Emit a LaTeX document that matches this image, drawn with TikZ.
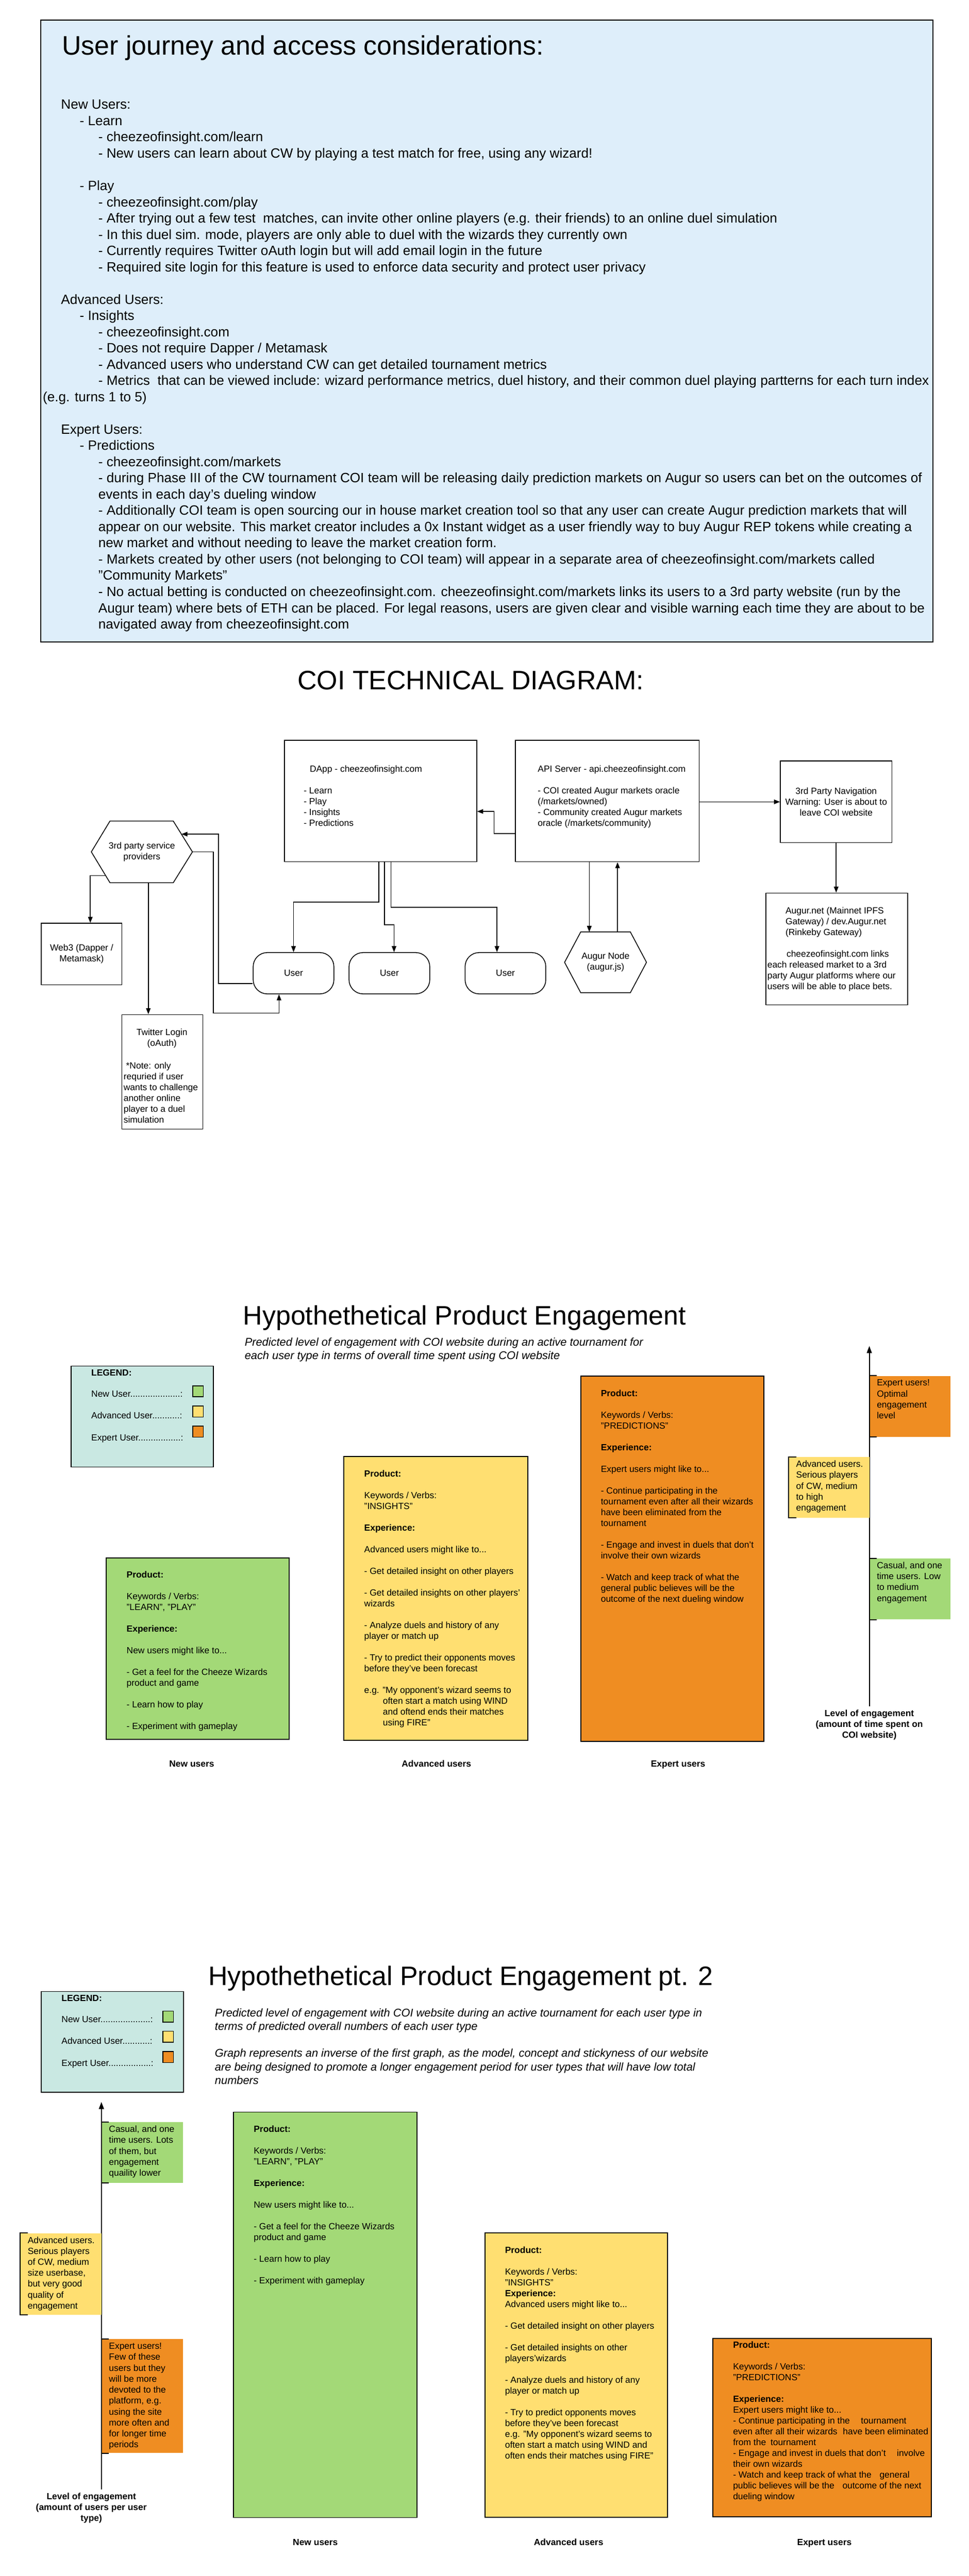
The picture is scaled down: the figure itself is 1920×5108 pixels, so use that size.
\documentclass[tikz,border=0pt]{standalone}
\usepackage{fontspec}
\setmainfont{Liberation Sans}
\usetikzlibrary{arrows.meta,calc}
\definecolor{topblue}{RGB}{222,238,250}
\definecolor{legteal}{RGB}{201,232,226}
\definecolor{cgreen}{RGB}{163,217,119}
\definecolor{cyellow}{RGB}{255,223,113}
\definecolor{corange}{RGB}{239,141,34}
\newcommand\ftSmall{\fontsize{17.8pt}{21.45pt}\selectfont}
\newcommand\ftSide{\fontsize{17.8pt}{21.7pt}\selectfont}
\newcommand\ftBody{\fontsize{26.7pt}{32.2pt}\selectfont}
\newcommand\ftTitle{\fontsize{53pt}{60pt}\selectfont}
\newcommand\ftSubA{\fontsize{22.3pt}{26pt}\selectfont\itshape}
\newcommand\ftSubB{\fontsize{22.3pt}{26.7pt}\selectfont\itshape}
\newcommand\Lt[1]{\begin{tabular}[t]{@{}l@{}}#1\end{tabular}}
\newcommand\Ct[1]{\begin{tabular}[t]{@{}c@{}}#1\end{tabular}}
\newcommand\legendat[3]{%
\begin{scope}[shift={(#1,#2)}]
\node[box, fill=legteal, minimum width=282pt, minimum height=200pt] (#3) at (0,0) {};
\node[tx, font=\ftSmall\bfseries] (#3-t) at (41,20) {LEGEND:};
\node[tx] (#3-a) at (41,62) {New User....................:};
\node[tx] (#3-b) at (41,105) {Advanced User...........:};
\node[tx] (#3-c) at (41,149) {Expert User.................:};
\node[box, fill=cgreen, minimum width=21pt, minimum height=22pt] (#3-s1) at (241,39) {};
\node[box, fill=cyellow, minimum width=21pt, minimum height=22pt] (#3-s2) at (241,79) {};
\node[box, fill=corange, minimum width=21pt, minimum height=22pt] (#3-s3) at (241,119) {};
\end{scope}}
\newcommand\sidebox[7]{% x y w h color name text
\node[anchor=north west, fill=#5, minimum width=#3pt, minimum height=#4pt, inner sep=0pt] (#6) at (#1,#2) {};
\draw[line width=2pt] ([xshift=15pt]#6.north west) -- (#6.north west) -- (#6.south west) -- ([xshift=15pt]#6.south west);
\node[tx, font=\ftSide] (#6-txt) at ([shift={(15pt,-20pt)}]#6.north west) {\Lt{#7}};}
\begin{document}
\begin{tikzpicture}[x=1pt,y=-1pt,
  box/.style={draw=black, line width=1.6pt, inner sep=0pt, anchor=north west},
  cbox/.style={draw=black, line width=2pt, inner sep=0pt, anchor=north west},
  tx/.style={anchor=base west, inner sep=0pt, outer sep=0pt, font=\ftSmall},
  ctx/.style={anchor=base, inner sep=0pt, outer sep=0pt, font=\ftSmall},
  lbl/.style={anchor=base, inner sep=0pt, font=\ftSmall\bfseries},
  arr/.style={line width=1.6pt, -{Triangle[length=12pt,width=9pt]}},
  axarr/.style={line width=2pt, -{Triangle[length=14pt,width=10pt]}},
  ln/.style={line width=1.6pt}]
\useasboundingbox (0,0) rectangle (1920,5108);
\fill[white] (0,0) rectangle (1920,5108);

% ================= TOP BOX =================
\node[box, fill=topblue, minimum width=1768pt, minimum height=1233pt] (topbox) at (80,39) {};
\node[tx, font=\ftTitle] (toptitle) at (123,109) {User journey and access considerations:};
\node[tx, font=\ftBody] (journey) at (121,216.5) {\Lt{New Users:\\
\hspace*{37pt}- Learn\\
\hspace*{74pt}- cheezeofinsight.com/learn\\
\hspace*{74pt}- New users can learn about CW by playing a test match for free, using any wizard!\\
\mbox{}\\
\hspace*{37pt}- Play\\
\hspace*{74pt}- cheezeofinsight.com/play\\
\hspace*{74pt}- After trying out a few test\ \ matches, can invite other online players (e.g. their friends) to an online duel simulation\\
\hspace*{74pt}- In this duel sim. mode, players are only able to duel with the wizards they currently own\\
\hspace*{74pt}- Currently requires Twitter oAuth login but will add email login in the future\\
\hspace*{74pt}- Required site login for this feature is used to enforce data security and protect user privacy\\
\mbox{}\\
Advanced Users:\\
\hspace*{37pt}- Insights\\
\hspace*{74pt}- cheezeofinsight.com\\
\hspace*{74pt}- Does not require Dapper / Metamask\\
\hspace*{74pt}- Advanced users who understand CW can get detailed tournament metrics\\
\hspace*{74pt}- Metrics\ \ that can be viewed include: wizard performance metrics, duel history, and their common duel playing partterns for each turn index\\
\hspace*{-36pt}(e.g. turns 1 to 5)\\
\mbox{}\\
Expert Users:\\
\hspace*{37pt}- Predictions\\
\hspace*{74pt}- cheezeofinsight.com/markets\\
\hspace*{74pt}- during Phase III of the CW tournament COI team will be releasing daily prediction markets on Augur so users can bet on the outcomes of\\
\hspace*{74pt}events in each day's dueling window\\
\hspace*{74pt}- Additionally COI team is open sourcing our in house market creation tool so that any user can create Augur prediction markets that will\\
\hspace*{74pt}appear on our website. This market creator includes a 0x Instant widget as a user friendly way to buy Augur REP tokens while creating a\\
\hspace*{74pt}new market and without needing to leave the market creation form.\\
\hspace*{74pt}- Markets created by other users (not belonging to COI team) will appear in a separate area of cheezeofinsight.com/markets called\\
\hspace*{74pt}"Community Markets"\\
\hspace*{74pt}- No actual betting is conducted on cheezeofinsight.com. cheezeofinsight.com/markets links its users to a 3rd party website (run by the\\
\hspace*{74pt}Augur team) where bets of ETH can be placed. For legal reasons, users are given clear and visible warning each time they are about to be\\
\hspace*{74pt}navigated away from cheezeofinsight.com}};

% ================= COI TECHNICAL DIAGRAM =================
\node[anchor=base, inner sep=0pt, font=\ftTitle] (coititle) at (933,1367) {COI TECHNICAL DIAGRAM:};
\node[box, minimum width=381pt, minimum height=241pt] (dapp) at (563,1467) {};
\node[tx] (dapptxt) at (602,1531) {\Lt{\hspace*{12pt}DApp - cheezeofinsight.com\\ \mbox{}\\ - Learn\\ - Play\\ - Insights\\ - Predictions}};
\node[box, minimum width=364pt, minimum height=241pt] (api) at (1021,1467) {};
\node[tx] (apitxt) at (1066,1531) {\Lt{API Server - api.cheezeofinsight.com\\ \mbox{}\\ - COI created Augur markets oracle\\ (/markets/owned)\\ - Community created Augur markets\\ oracle (/markets/community)}};
\node[box, minimum width=221pt, minimum height=162pt, align=center, font=\ftSmall] (nav) at (1546,1508) {3rd Party Navigation\\Warning: User is about to\\leave COI website};
\node[box, minimum width=281pt, minimum height=222pt] (augurnet) at (1517,1770) {};
\node[tx] (augurnettxt) at (1521,1812) {\Lt{\hspace*{36pt}Augur.net (Mainnet IPFS\\ \hspace*{36pt}Gateway) / dev.Augur.net\\ \hspace*{36pt}(Rinkeby Gateway)\\ \mbox{}\\ \hspace*{38pt}cheezeofinsight.com links\\ each released market to a 3rd\\ party Augur platforms where our\\ users will be able to place bets.}};
% 3rd party hexagon
\node[anchor=north west, minimum width=200pt, minimum height=122pt, inner sep=0pt, align=center, font=\ftSmall] (hex3p) at (181,1628) {3rd party service\\providers};
\draw[ln] (hex3p.west) -- ([xshift=37pt]hex3p.north west) -- ([xshift=-38pt]hex3p.north east) -- (hex3p.east) -- ([xshift=-38pt]hex3p.south east) -- ([xshift=37pt]hex3p.south west) -- cycle;
\node[box, minimum width=160pt, minimum height=122pt, align=center, font=\ftSmall] (web3) at (81,1830) {Web3 (Dapper /\\Metamask)};
\node[box, minimum width=160pt, minimum height=227pt] (twitter) at (241,2011) {};
\node[ctx] (twittertxt) at (321,2053) {\Ct{Twitter Login\\(oAuth)}};
\node[tx] (twitternote) at (245,2119) {\Lt{\hspace*{5pt}*Note: only\\requried if user\\wants to challenge\\another online\\player to a duel\\simulation}};
% users
\node[box, rounded corners=28pt, minimum width=160pt, minimum height=82pt, font=\ftSmall] (user1) at (501,1888) {User};
\node[box, rounded corners=28pt, minimum width=160pt, minimum height=82pt, font=\ftSmall] (user2) at (691,1888) {User};
\node[box, rounded corners=28pt, minimum width=160pt, minimum height=82pt, font=\ftSmall] (user3) at (921,1888) {User};
% augur node hexagon
\node[anchor=north west, minimum width=162pt, minimum height=120pt, inner sep=0pt, align=center, font=\ftSmall] (augurnode) at (1119,1848) {Augur Node\\(augur.js)};
\draw[ln] (augurnode.west) -- ([xshift=32pt]augurnode.north west) -- ([xshift=-32pt]augurnode.north east) -- (augurnode.east) -- ([xshift=-32pt]augurnode.south east) -- ([xshift=32pt]augurnode.south west) -- cycle;
% connectors
\draw[arr] (api.west |- 0,1653) -- (979,1653) |- (dapp.east |- 0,1609);
\draw[arr] (api.east |- 0,1590) -- (nav.west |- 0,1590);
\draw[arr] (nav.south) -- (nav.south |- augurnet.north);
\draw[arr] (api.south -| 1168,0) -- (augurnode.north -| 1168,0);
\draw[arr] (augurnode.north -| 1224,0) -- (api.south -| 1224,0);
\draw[arr] (dapp.south -| 751,0) -- (751,1789) -| (user1.north);
\draw[arr] (dapp.south -| 762,0) -- (762,1834) -| (user2.north -| 781,0);
\draw[arr] (dapp.south -| 775,0) -- (775,1799) -| (user3.north -| 985,0);
\coordinate (hexin) at (359.5,1654);
\coordinate (hexww) at (209.5,1736);
\draw[arr] (user1.west |- 0,1950) -| (433,1654) -- (hexin);
\draw[arr] (hex3p.east) -| (423,2009) -| (user1.south -| 553,0);
\draw[arr] (hexww) -| (web3.north -| 179,0);
\draw[arr] (hex3p.south -| 294,0) -- (twitter.north -| 294,0);

% ================= HYPOTHETICAL 1 =================
\node[tx, font=\ftTitle] (h1title) at (482,2627) {Hypothethetical Product Engagement};
\node[tx, font=\ftSubA] (h1sub) at (485,2669) {\Lt{Predicted level of engagement with COI website during an active tournament for\\each user type in terms of overall time spent using COI website}};
\legendat{140}{2708}{leg1}
\node[cbox, fill=cgreen, minimum width=363pt, minimum height=360pt] (h1new) at (209,3088) {};
\node[tx] (h1newtxt) at (251,3129) {\Lt{\textbf{Product:}\\ \mbox{}\\ Keywords / Verbs:\\ "LEARN", "PLAY"\\ \mbox{}\\ \textbf{Experience:}\\ \mbox{}\\ New users might like to...\\ \mbox{}\\ - Get a feel for the Cheeze Wizards\\ product and game\\ \mbox{}\\ - Learn how to play\\ \mbox{}\\ - Experiment with gameplay}};
\node[cbox, fill=cyellow, minimum width=365pt, minimum height=563pt] (h1adv) at (680,2887) {};
\node[tx] (h1advtxt) at (722,2928) {\Lt{\textbf{Product:}\\ \mbox{}\\ Keywords / Verbs:\\ "INSIGHTS"\\ \mbox{}\\ \textbf{Experience:}\\ \mbox{}\\ Advanced users might like to...\\ \mbox{}\\ - Get detailed insight on other players\\ \mbox{}\\ - Get detailed insights on other players'\\ wizards\\ \mbox{}\\ - Analyze duels and history of any\\ player or match up\\ \mbox{}\\ - Try to predict their opponents moves\\ before they've been forecast\\ \mbox{}\\ e.g. "My opponent's wizard seems to\\ \hspace*{37pt}often start a match using WIND\\ \hspace*{37pt}and oftend ends their matches\\ \hspace*{37pt}using FIRE"}};
\node[cbox, fill=corange, minimum width=363pt, minimum height=724pt] (h1exp) at (1150,2728) {};
\node[tx] (h1exptxt) at (1191,2769) {\Lt{\textbf{Product:}\\ \mbox{}\\ Keywords / Verbs:\\ "PREDICTIONS"\\ \mbox{}\\ \textbf{Experience:}\\ \mbox{}\\ Expert users might like to...\\ \mbox{}\\ - Continue participating in the\\ tournament even after all their wizards\\ have been eliminated from the\\ tournament\\ \mbox{}\\ - Engage and invest in duels that don't\\ involve their own wizards\\ \mbox{}\\ - Watch and keep track of what the\\ general public believes will be the\\ outcome of the next dueling window}};
\node[lbl] (h1l1) at (380,3504) {New users};
\node[lbl] (h1l2) at (865,3504) {Advanced users};
\node[lbl] (h1l3) at (1344,3504) {Expert users};
\coordinate (ax1b) at (1723,3383);
\coordinate (ax1t) at (1723,2669);
\draw[axarr] (ax1b) -- (ax1t);
\sidebox{1723}{2728}{161}{121}{corange}{h1se}{Expert users!\\Optimal\\engagement\\level}
\sidebox{1563}{2889}{160}{120}{cyellow}{h1sa}{Advanced users.\\Serious players\\of CW, medium\\to high\\engagement}
\sidebox{1723}{3090}{161}{121}{cgreen}{h1sc}{Casual, and one\\time users. Low\\to medium\\engagement}
\node[lbl] (h1axl) at (1723,3403) {\Ct{Level of engagement\\(amount of time spent on\\COI website)}};

% ================= HYPOTHETICAL 2 =================
\node[tx, font=\ftTitle] (h2title) at (413,3937) {Hypothethetical Product Engagement pt. 2};
\node[tx, font=\ftSubB] (h2sub) at (426,3999) {\Lt{Predicted level of engagement with COI website during an active tournament for each user type in\\terms of predicted overall numbers of each user type\\ \mbox{}\\Graph represents an inverse of the first graph, as the model, concept and stickyness of our website\\are being designed to promote a longer engagement period for user types that will have low total\\numbers}};
\legendat{81}{3948}{leg2}
\coordinate (ax2b) at (201,4936);
\coordinate (ax2t) at (201,4168);
\draw[axarr] (ax2b) -- (ax2t);
\sidebox{201}{4208}{161}{120}{cgreen}{h2sc}{Casual, and one\\time users. Lots\\of them, but\\engagement\\quaility lower}
\sidebox{40}{4428}{161}{162}{cyellow}{h2sa}{Advanced users.\\Serious players\\of CW, medium\\size userbase,\\but very good\\quality of\\engagement}
\sidebox{201}{4638}{161}{226}{corange}{h2se}{Expert users!\\Few of these\\users but they\\will be more\\devoted to the\\platform, e.g.\\using the site\\more often and\\for longer time\\periods}
\node[lbl] (h2axl) at (181,4956) {\Ct{Level of engagement\\(amount of users per user\\type)}};
\node[cbox, fill=cgreen, minimum width=363pt, minimum height=804pt] (h2new) at (462,4187) {};
\node[tx] (h2newtxt) at (503,4228) {\Lt{\textbf{Product:}\\ \mbox{}\\ Keywords / Verbs:\\ "LEARN", "PLAY"\\ \mbox{}\\ \textbf{Experience:}\\ \mbox{}\\ New users might like to...\\ \mbox{}\\ - Get a feel for the Cheeze Wizards\\ product and game\\ \mbox{}\\ - Learn how to play\\ \mbox{}\\ - Experiment with gameplay}};
\node[cbox, fill=cyellow, minimum width=362pt, minimum height=563pt] (h2adv) at (960,4427) {};
\node[tx] (h2advtxt) at (1001,4468) {\Lt{\textbf{Product:}\\ \mbox{}\\ Keywords / Verbs:\\ "INSIGHTS"\\ \textbf{Experience:}\\ Advanced users might like to...\\ \mbox{}\\ - Get detailed insight on other players\\ \mbox{}\\ - Get detailed insights on other\\ players'wizards\\ \mbox{}\\ - Analyze duels and history of any\\ player or match up\\ \mbox{}\\ - Try to predict opponents moves\\ before they've been forecast\\ e.g. "My opponent's wizard seems to\\ often start a match using WIND and\\ often ends their matches using FIRE"}};
\node[cbox, fill=corange, minimum width=433pt, minimum height=353pt] (h2exp) at (1412,4636) {};
\node[tx] (h2exptxt) at (1453,4656) {\Lt{\textbf{Product:}\\ \mbox{}\\ Keywords / Verbs:\\ "PREDICTIONS"\\ \mbox{}\\ \textbf{Experience:}\\ Expert users might like to...\\ - Continue participating in the\hspace{22pt}tournament\\ even after all their wizards\hspace{11pt}have been eliminated\\ from the\hspace{9pt}tournament\\ - Engage and invest in duels that don't\hspace{22pt}involve\\ their own wizards\\ - Watch and keep track of what the\hspace{16pt}general\\ public believes will be the\hspace{16pt}outcome of the next\\ dueling window}};
\node[lbl] (h2l1) at (625,5047) {New users};
\node[lbl] (h2l2) at (1127,5047) {Advanced users};
\node[lbl] (h2l3) at (1634,5047) {Expert users};
\end{tikzpicture}
\end{document}
